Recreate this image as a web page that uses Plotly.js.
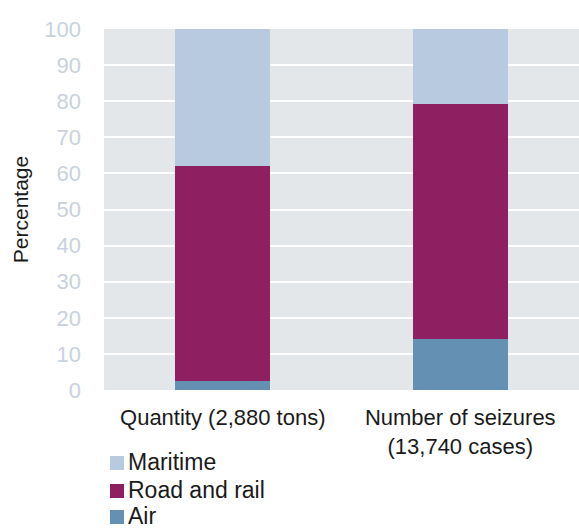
<!DOCTYPE html>
<html>
<head>
<meta charset="utf-8">
<script src="https://cdn.plot.ly/plotly-3.0.1.min.js"></script>
<style>
  html, body { margin: 0; padding: 0; background: #ffffff; }
  #chart { width: 579px; height: 532px; }
</style>
</head>
<body>
<div id="chart"></div>
<script>
// Share of trafficking by transport mode (percentages)
const categories = ["Quantity (2,880 tons)", "Number of seizures<br>(13,740 cases)"];
const seriesNames = ["Air", "Road and rail", "Maritime"];
const airValues = [2.5, 14];
const roadValues = [59.5, 65.3];
const maritimeValues = [38, 20.7];
const yTickValues = [0, 10, 20, 30, 40, 50, 60, 70, 80, 90, 100];

const colors = {
  "Air": "#6490b3",
  "Road and rail": "#8e1f61",
  "Maritime": "#b8cadf"
};

const valuesByName = {
  "Air": airValues,
  "Road and rail": roadValues,
  "Maritime": maritimeValues
};

const FONT = "Liberation Sans, Arial, sans-serif";

const traces = seriesNames.map(name => ({
  type: "bar",
  name: name,
  x: categories,
  y: valuesByName[name],
  width: 0.4,
  marker: { color: colors[name], line: { width: 0 } },
  showlegend: false,
  hoverinfo: "x+y+name"
}));

// Hand-placed key below the plot: square swatch + label per series, top to bottom
const legendOrder = ["Maritime", "Road and rail", "Air"];
const plotTop = 29, plotBottom = 390, plotLeft = 104, plotRight = 579;
const plotH = plotBottom - plotTop, plotW = plotRight - plotLeft;
const rowCenters = [462, 490, 516];
const shapes = [];
const annotations = [];
legendOrder.forEach((name, i) => {
  const cy = rowCenters[i];
  shapes.push({
    type: "rect", xref: "paper", yref: "paper",
    x0: (110 - plotLeft) / plotW, x1: (124 - plotLeft) / plotW,
    y0: (plotBottom - (cy + 8)) / plotH, y1: (plotBottom - (cy - 6)) / plotH,
    fillcolor: colors[name], line: { width: 0 }
  });
  annotations.push({
    xref: "paper", yref: "paper",
    x: (127 - plotLeft) / plotW, y: (plotBottom - cy) / plotH,
    xanchor: "left", yanchor: "middle",
    borderpad: 0,
    text: name, showarrow: false,
    font: { family: FONT, size: 23, color: "#1a1a1a" }
  });
});

const layout = {
  width: 579,
  height: 532,
  margin: { l: plotLeft, r: 579 - plotRight, t: plotTop, b: 532 - plotBottom },
  paper_bgcolor: "#ffffff",
  plot_bgcolor: "#e3e7ea",
  barmode: "stack",
  showlegend: false,
  xaxis: {
    type: "category",
    range: [-0.5, 1.5],
    showgrid: false,
    zeroline: false,
    showline: false,
    ticks: "",
    ticklabelstandoff: 12,
    tickfont: { family: FONT, size: 22, color: "#1a1a1a" },
    fixedrange: true
  },
  yaxis: {
    range: [0, 100],
    tickvals: yTickValues,
    ticktext: yTickValues.map(String),
    showgrid: true,
    gridcolor: "#ffffff",
    gridwidth: 2,
    zeroline: false,
    showline: false,
    ticks: "",
    ticklabelstandoff: 22,
    tickfont: { family: FONT, size: 22, color: "#c8d2de" },
    title: { text: "Percentage", font: { family: FONT, size: 21, color: "#1a1a1a" }, standoff: 9 },
    fixedrange: true
  },
  shapes: shapes,
  annotations: annotations
};

Plotly.newPlot("chart", traces, layout, { displayModeBar: false, staticPlot: true });
</script>
</body>
</html>
